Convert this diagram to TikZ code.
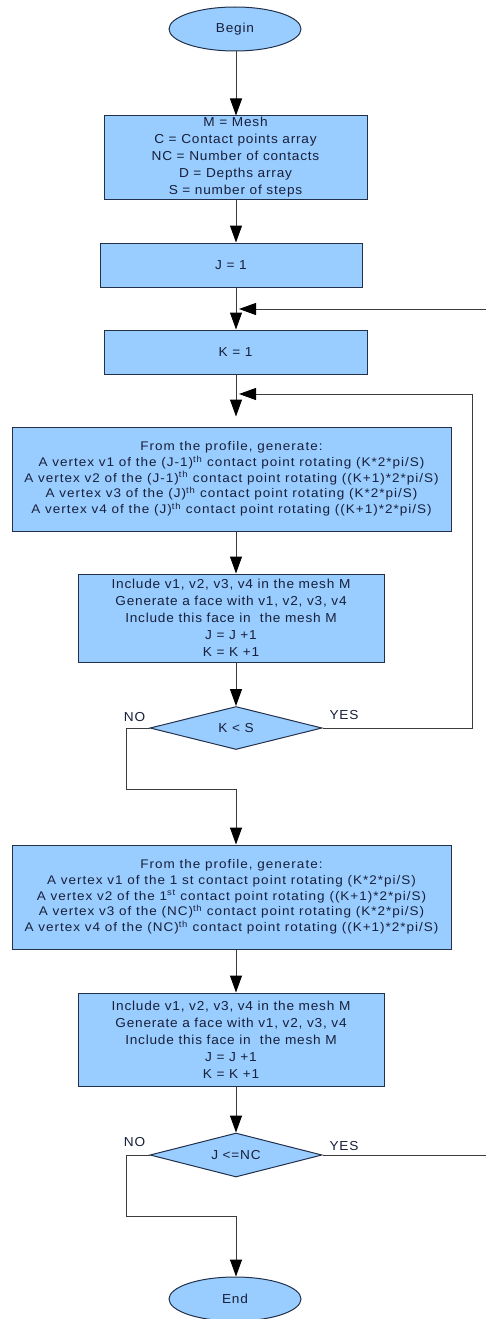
\documentclass[tikz,border=0pt]{standalone}
\usepackage{fontspec}
\setmainfont{Liberation Sans}[FakeStretch=1.05,LetterSpace=6]
\newfontfamily\widefont{Liberation Sans}[FakeStretch=1.08,LetterSpace=8]
\usetikzlibrary{shapes.geometric,arrows.meta}

\definecolor{boxfill}{HTML}{99CCFF}
\definecolor{boxline}{HTML}{22304A}
\definecolor{ink}{HTML}{18203A}
\definecolor{wire}{HTML}{3C3C3C}

\tikzset{
  base/.style={draw=boxline, fill=boxfill, line width=1pt, text=ink,
    font=\fontsize{13}{17}\selectfont, align=center, inner sep=0pt},
  procbox/.style={base, rectangle},
  widebox/.style={base, rectangle, font=\widefont\fontsize{12.5}{15.7}\selectfont},
  term/.style={base, ellipse},
  decide/.style={base, diamond, aspect=4},
  flow/.style={draw=wire, line width=1pt,
    -{Triangle[width=12pt,length=17pt,color=black]}},
  lbl/.style={text=ink, font=\fontsize{13}{14}\selectfont, inner sep=0pt}
}

\begin{document}
\begin{tikzpicture}[x=1pt,y=-1pt]
\useasboundingbox (0,0) rectangle (485,1319);

% main column of the flow
\coordinate (spine) at (236,0);

\node[term, minimum width=132pt, minimum height=44pt] (begin) at (235,29) {Begin};

\node[procbox, minimum width=263pt, minimum height=83pt] (init) at (235.5,157.5)
  {M = Mesh\\C = Contact points array\\NC = Number of contacts\\D = Depths array\\S = number of steps};

\node[procbox, minimum width=262pt, minimum height=44pt] (j1) at (231,265) {J = 1};

\node[procbox, minimum width=263pt, minimum height=44pt] (k1) at (235.5,352) {K = 1};

\node[widebox, minimum width=439pt, minimum height=104pt] (gen1) at (231.5,479)
  {From the profile, generate:\\
   A vertex v1 of the (J-1)\textsuperscript{th} contact point rotating (K*2*pi/S)\\
   A vertex v2 of the (J-1)\textsuperscript{th} contact point rotating ((K+1)*2*pi/S)\\
   A vertex v3 of the (J)\textsuperscript{th} contact point rotating (K*2*pi/S)\\
   A vertex v4 of the (J)\textsuperscript{th} contact point rotating ((K+1)*2*pi/S)};

\node[procbox, minimum width=306pt, minimum height=88pt] (inc1) at (231,618)
  {Include v1, v2, v3, v4 in the mesh M\\Generate a face with v1, v2, v3, v4\\Include this face in\ \ the mesh M\\J = J +1\\K = K +1};

\node[decide, minimum width=172pt, minimum height=43pt] (dec1) at (236,728) {K < S};

\node[widebox, minimum width=439pt, minimum height=104pt] (gen2) at (231.5,897)
  {From the profile, generate:\\
   A vertex v1 of the 1 st contact point rotating (K*2*pi/S)\\
   A vertex v2 of the 1\textsuperscript{st} contact point rotating ((K+1)*2*pi/S)\\
   A vertex v3 of the (NC)\textsuperscript{th} contact point rotating (K*2*pi/S)\\
   A vertex v4 of the (NC)\textsuperscript{th} contact point rotating ((K+1)*2*pi/S)};

\node[procbox, minimum width=306pt, minimum height=93pt] (inc2) at (231,1039.5)
  {Include v1, v2, v3, v4 in the mesh M\\Generate a face with v1, v2, v3, v4\\Include this face in\ \ the mesh M\\J = J +1\\K = K +1};

\node[decide, minimum width=172pt, minimum height=44pt] (dec2) at (236,1155) {J <=NC};

\node[term, minimum width=132pt, minimum height=44pt] (end) at (235,1299) {End};

% branch labels
\node[lbl] (no1) at (134.5,717) {NO};
\node[lbl] (yes1) at (344,715) {YES};
\node[lbl] (no2) at (134.5,1142) {NO};
\node[lbl] (yes2) at (344,1146) {YES};

% loop return points and bends
\coordinate (jin) at (239,309);
\coordinate (kin) at (239,394);
\coordinate (rloop) at (472,394);
\coordinate (rout) at (495,309);
\coordinate (nobend1) at (126,789);
\coordinate (nobend2) at (126,1216);

% straight connectors
\draw[flow] (begin.south -| spine) -- (init.north -| spine);
\draw[flow] (init.south -| spine) -- (j1.north -| spine);
\draw[flow] (j1.south -| spine) -- (k1.north -| spine);
\draw[flow] (k1.south -| spine) -- ([yshift=10pt]gen1.north -| spine);
\draw[flow] (gen1.south -| spine) -- (inc1.north -| spine);
\draw[flow] (inc1.south -| spine) -- (dec1.north);
\draw[flow] (gen2.south -| spine) -- (inc2.north -| spine);
\draw[flow] (inc2.south -| spine) -- (dec2.north);

% YES branches loop back
\draw[flow] (dec1.east) -| (rloop) -- (kin);
\draw[flow] (dec2.east) -| (rout) -- (jin);

% NO branches continue down
\draw[flow] (dec1.west) -| (nobend1) -- (nobend1 -| spine) -- (gen2.north -| spine);
\draw[flow] (dec2.west) -| (nobend2) -- (nobend2 -| spine) -- (end.north -| spine);
\end{tikzpicture}
\end{document}
